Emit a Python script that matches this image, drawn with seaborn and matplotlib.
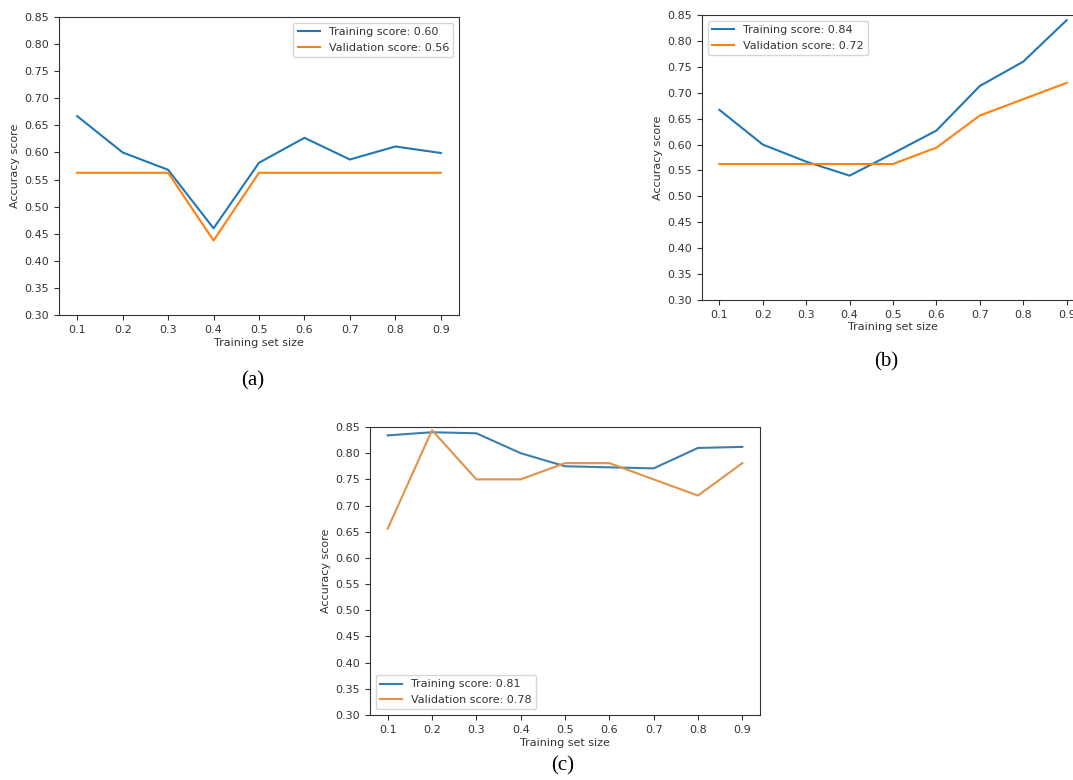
import matplotlib
matplotlib.use("Agg")
import matplotlib.pyplot as plt
import seaborn as sns
import pandas as pd

# training set fractions shared by all panels
sizes = [0.1, 0.2, 0.3, 0.4, 0.5, 0.6, 0.7, 0.8, 0.9]
y_ticks = [0.30, 0.35, 0.40, 0.45, 0.50, 0.55, 0.60, 0.65, 0.70, 0.75, 0.80, 0.85]

# panel (a)
train_a = [0.667, 0.600, 0.568, 0.460, 0.581, 0.627, 0.587, 0.611, 0.599]
valid_a = [0.5625, 0.5625, 0.5625, 0.4375, 0.5625, 0.5625, 0.5625, 0.5625, 0.5625]
# panel (b)
train_b = [0.667, 0.600, 0.567, 0.540, 0.583, 0.627, 0.713, 0.760, 0.840]
valid_b = [0.5625, 0.5625, 0.5625, 0.5625, 0.5625, 0.594, 0.656, 0.6875, 0.719]
# panel (c)
train_c = [0.834, 0.840, 0.838, 0.800, 0.775, 0.773, 0.771, 0.810, 0.812]
valid_c = [0.656, 0.844, 0.750, 0.750, 0.781, 0.781, 0.750, 0.719, 0.781]

W, H = 1073, 780
fig = plt.figure(figsize=(W / 100, H / 100), dpi=100)


def px_axes(left, top, right, bottom):
    return fig.add_axes([left / W, 1 - bottom / H, (right - left) / W, (bottom - top) / H])


def curve_panel(ax, train, valid, colors, loc):
    df = pd.DataFrame({
        "size": sizes * 2,
        "score": train + valid,
        "kind": [f"Training score: {train[-1]:.2f}"] * len(sizes)
                + [f"Validation score: {valid[-1]:.2f}"] * len(sizes),
    })
    sns.lineplot(data=df, x="size", y="score", hue="kind", palette=colors,
                 linewidth=1.5, ax=ax)
    ax.set_ylim(0.30, 0.85)
    ax.set_yticks(y_ticks)
    ax.set_xticks(sizes)
    ax.set_xticklabels([f"{s:.1f}" for s in sizes])
    ax.set_yticklabels([f"{t:.2f}" for t in y_ticks])
    ax.tick_params(labelsize=8, length=3.5, colors="#333333")
    for sp in ax.spines.values():
        sp.set_color("#333333")
    ax.set_xlabel("Training set size", fontsize=8, labelpad=2, color="#333333")
    ax.set_ylabel("Accuracy score", fontsize=8, labelpad=3, color="#333333")
    leg = ax.legend(loc=loc, fontsize=8, title=None)
    for t in leg.get_texts():
        t.set_color("#333333")
    return leg


ax_a = px_axes(59, 17, 459, 315)
curve_panel(ax_a, train_a, valid_a, ["#1f77b4", "#ff7f0e"], "upper right")

ax_b = px_axes(702, 15, 1084, 300)
curve_panel(ax_b, train_b, valid_b, ["#1f77b4", "#ff7f0e"], "upper left")

ax_c = px_axes(370, 427, 760, 715)
curve_panel(ax_c, train_c, valid_c, ["#3d7eab", "#e0924a"], "lower left")

serif = ["Liberation Serif", "DejaVu Serif"]
fig.text(253 / W, 1 - 381 / H, "(a)", ha="center", va="center", fontsize=15, family=serif)
fig.text(886 / W, 1 - 362 / H, "(b)", ha="center", va="center", fontsize=15, family=serif)
fig.text(563 / W, 1 - 766 / H, "(c)", ha="center", va="center", fontsize=15, family=serif)

fig.savefig("out.png", dpi=100)
